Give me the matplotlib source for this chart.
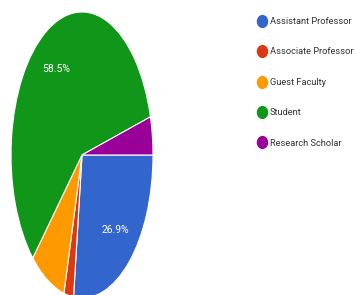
import matplotlib
matplotlib.use("Agg")
import matplotlib.pyplot as plt
from matplotlib.lines import Line2D
from matplotlib.path import Path
from matplotlib.transforms import Affine2D

categories = ["Assistant Professor", "Associate Professor", "Guest Faculty", "Student", "Research Scholar"]
values = [26.9, 2.2, 8.1, 58.5, 4.3]
colors = ["#3366cc", "#dc3912", "#ff9900", "#109618", "#990099"]

plt.rcParams['font.family'] = ['Roboto', 'DejaVu Sans']

fig = plt.figure(figsize=(3.55, 2.95), dpi=100)
W, H = 355, 295
cx, cy, rx, ry = 82, 155, 71, 143
ax = fig.add_axes([(cx - rx) / W, (H - cy - ry) / H, 2 * rx / W, 2 * ry / H])

def fmt(p):
    return f"{p:.1f}%" if p >= 20 else ""

wedges, texts, autotexts = ax.pie(values, colors=colors, startangle=0, counterclock=False,
                                  autopct=fmt, pctdistance=0.7, radius=1,
                                  wedgeprops=dict(edgecolor="white", linewidth=0.8))
for t in autotexts:
    t.set_color("white")
    t.set_fontsize(7.5)
ax.set_aspect('auto')
ax.set_xlim(-1, 1)
ax.set_ylim(-1, 1)

ell = Path.unit_circle().transformed(Affine2D().scale(0.85, 1.0))
handles = [Line2D([], [], linestyle='none', marker=ell, markersize=8.5,
                  markerfacecolor=c, markeredgecolor=c) for c in colors]
fig.legend(handles, categories, loc='upper left', bbox_to_anchor=(257 / W, 1 - 17 / H),
           frameon=False, fontsize=6.7, labelspacing=2.3, handlelength=0.97,
           handletextpad=0.43, borderaxespad=0, borderpad=0, labelcolor="#333333")

fig.savefig("out.png", dpi=100)
